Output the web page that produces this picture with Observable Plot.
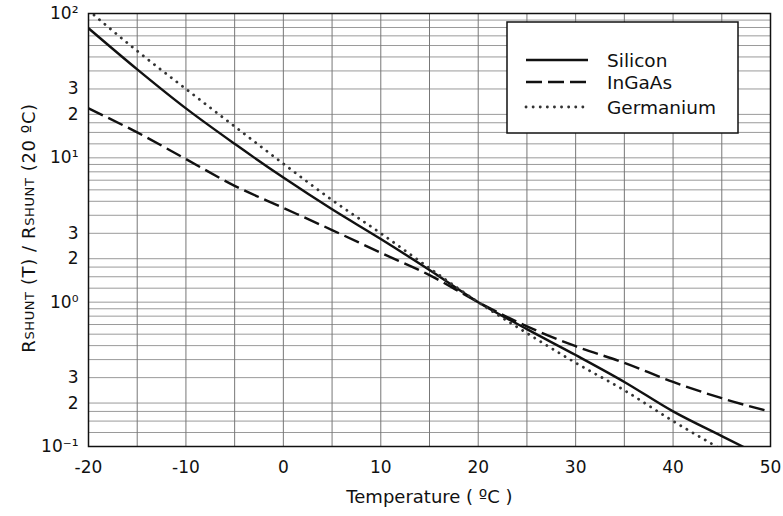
<!DOCTYPE html>
<html>
<head>
<meta charset="utf-8">
<script src="https://cdn.jsdelivr.net/npm/d3@7"></script>
<script src="https://cdn.jsdelivr.net/npm/@observablehq/plot@0.6"></script>
<style>
  html, body { margin: 0; padding: 0; background: white; }
</style>
</head>
<body>
<div id="chart"></div>
<script>
// Data
const temps     = [-20, -15, -10, -5, 0, 5, 10, 15, 20, 25, 30, 35, 40, 45, 50];
const silicon   = [79, 41, 22, 12.5, 7.3, 4.4, 2.74, 1.67, 1.0, 0.65, 0.43, 0.28, 0.175, 0.118, 0.08];
const ingaas    = [22, 15, 9.8, 6.4, 4.5, 3.16, 2.2, 1.54, 1.0, 0.68, 0.495, 0.38, 0.28, 0.216, 0.174];
const germanium = [105, 55, 30, 16.5, 9.1, 5.1, 3.0, 1.72, 1.0, 0.61, 0.38, 0.245, 0.15, 0.095, 0.06];

const seriesNames = ["Silicon", "InGaAs", "Germanium"];

const xTicks = [-20, -10, 0, 10, 20, 30, 40, 50];
const xGrid = [-20, -15, -10, -5, 0, 5, 10, 15, 20, 25, 30, 35, 40, 45, 50];
const yTickValues = [0.1, 0.2, 0.3, 1, 2, 3, 10, 20, 30, 100];
const yTickLabels = ["10\u207B\u00B9", "2", "3", "10\u2070", "2", "3", "10\u00B9", "2", "3", "10\u00B2"];
const decades = [0.1, 1, 10];
const mantissas = [1, 1.25, 1.5, 1.75, 2, 3, 4, 5, 6, 7, 8, 9];
const yGrid = decades.flatMap(d => mantissas.map(m => +(d * m).toPrecision(4))).concat([100]);

const xLabel = "Temperature ( \u00BAC )";

const rows = (name, vals) => temps.map((t, i) => ({series: name, t, v: vals[i]}));
const data = [
  ...rows("Silicon", silicon),
  ...rows("InGaAs", ingaas),
  ...rows("Germanium", germanium)
];

const labelMap = new Map(yTickValues.map((v, i) => [v, yTickLabels[i]]));
const font = "DejaVu Sans";

const styles = {
  Silicon:   {stroke: "#111", strokeWidth: 2.4, strokeDasharray: null, cap: "butt"},
  InGaAs:    {stroke: "#111", strokeWidth: 2.4, strokeDasharray: "16,6", cap: "butt"},
  Germanium: {stroke: "#333", strokeWidth: 2.8, strokeDasharray: "0.1,7", cap: "round"}
};

const chart = Plot.plot({
  width: 783,
  height: 516,
  marginLeft: 88,
  marginRight: 13,
  marginTop: 13,
  marginBottom: 70,
  style: {fontFamily: font, fontSize: "17px", color: "#111", background: "white", overflow: "visible"},
  x: {domain: [-20, 50], ticks: xTicks, tickFormat: d => String(d), tickSize: 0, tickPadding: 14, label: null},
  y: {type: "log", domain: [0.1, 100], ticks: yTickValues, tickFormat: d => labelMap.get(d) ?? "", tickSize: 0, tickPadding: 10, label: null},
  marks: [
    Plot.ruleY(yGrid, {stroke: "#9a9a9a", strokeWidth: 1}),
    Plot.ruleX(xGrid, {stroke: "#777", strokeWidth: 1}),
    ...seriesNames.map(name => Plot.line(data.filter(d => d.series === name), {
      x: "t", y: "v", curve: "monotone-x", clip: true,
      stroke: styles[name].stroke, strokeWidth: styles[name].strokeWidth,
      strokeDasharray: styles[name].strokeDasharray, strokeLinecap: styles[name].cap
    })),
    Plot.frame({stroke: "#111", strokeWidth: 1.5}),
    Plot.text([xLabel], {frameAnchor: "bottom", dy: 56, fontSize: 18, fill: "#111"})
  ]
});

document.getElementById("chart").appendChild(chart);

const svg = d3.select(chart);

// Y-axis title with small-caps subscripts
const yt = svg.append("text")
  .attr("transform", "translate(30,228) rotate(-90)")
  .attr("text-anchor", "middle")
  .attr("dominant-baseline", "middle")
  .attr("font-family", font)
  .attr("font-size", 18)
  .attr("letter-spacing", 0.6)
  .attr("fill", "#111");
yt.append("tspan").text("R");
yt.append("tspan").attr("font-size", 13).text("SHUNT");
yt.append("tspan").text(" (T) / R");
yt.append("tspan").attr("font-size", 13).text("SHUNT");
yt.append("tspan").text(" (20 \u00BAC)");

// Legend
const lg = svg.append("g");
lg.append("rect").attr("x", 507).attr("y", 22).attr("width", 231).attr("height", 111)
  .attr("fill", "white").attr("stroke", "#111").attr("stroke-width", 1.5);
const legendY = [60, 82, 107];
seriesNames.forEach((name, i) => {
  const s = styles[name];
  lg.append("line").attr("x1", 526).attr("x2", 588).attr("y1", legendY[i]).attr("y2", legendY[i])
    .attr("stroke", s.stroke).attr("stroke-width", s.strokeWidth)
    .attr("stroke-dasharray", s.strokeDasharray).attr("stroke-linecap", s.cap);
  lg.append("text").attr("x", 607).attr("y", legendY[i]).attr("dy", "0.36em")
    .attr("text-anchor", "start")
    .attr("font-family", font).attr("font-size", 18.5).attr("fill", "#111").text(name);
});
</script>
</body>
</html>
